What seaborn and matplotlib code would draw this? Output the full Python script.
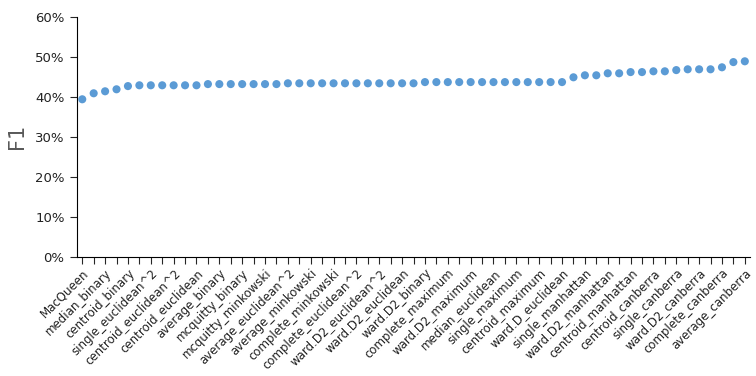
import matplotlib as mpl

mpl.use('Agg')
import matplotlib.pyplot as plt
from matplotlib.ticker import PercentFormatter, MultipleLocator
import pandas as pd
import seaborn as sns

#### Data ####
methods = [
    "MacQueen", "Lloyd", "median_binary", "Hartigan-Wong", "centroid_binary",
    "single_binary", "single_euclidean^2", "median_euclidean^2",
    "centroid_euclidean^2", "single_euclidean", "centroid_euclidean",
    "ward.D_binary", "average_binary", "complete_binary", "mcquitty_binary",
    "mcquitty_euclidean^2", "mcquitty_minkowski", "mcquitty_euclidean",
    "average_euclidean^2", "average_euclidean", "average_minkowski",
    "complete_euclidean", "complete_minkowski", "ward.D_euclidean^2",
    "complete_euclidean^2", "ward.D2_minkowski", "ward.D2_euclidean^2",
    "single_minkowski", "ward.D2_euclidean", "median_minkowski",
    "ward.D2_binary", "average_maximum", "complete_maximum",
    "mcquitty_maximum", "ward.D2_maximum", "median_maximum",
    "median_euclidean", "ward.D_maximum", "single_maximum",
    "centroid_minkowski", "centroid_maximum", "ward.D_minkowski",
    "ward.D_euclidean", "median_manhattan", "single_manhattan",
    "average_manhattan", "ward.D2_manhattan", "complete_manhattan",
    "centroid_manhattan", "mcquitty_manhattan", "centroid_canberra",
    "median_canberra", "single_canberra", "ward.D_manhattan",
    "ward.D2_canberra", "mcquitty_canberra", "complete_canberra",
    "ward.D_canberra", "average_canberra",
]

f1 = [
    0.394, 0.409, 0.414, 0.419, 0.427,
    0.429, 0.429, 0.429, 0.429, 0.429, 0.429,
    0.432, 0.432, 0.432, 0.432, 0.432, 0.432, 0.432,
    0.434, 0.434, 0.434, 0.434, 0.434, 0.434,
    0.434, 0.434, 0.434, 0.434, 0.434, 0.434,
    0.437, 0.437, 0.437, 0.437, 0.437, 0.437, 0.437,
    0.437, 0.437, 0.437, 0.437, 0.437, 0.437,
    0.449, 0.454, 0.454, 0.459, 0.459, 0.462, 0.462,
    0.464, 0.464, 0.467, 0.469, 0.469, 0.469, 0.474,
    0.487, 0.489,
]

y_ticks = [0, 0.1, 0.2, 0.3, 0.4, 0.5, 0.6]
########################

sns.set_style('white')
plt.rcParams['font.family'] = ['DejaVu Sans']

df = pd.DataFrame({'method': methods, 'F1': f1})
df['pos'] = range(len(df))

figure, axis = plt.subplots(figsize=(7.56, 3.76), dpi=100)
figure.subplots_adjust(left=0.102, right=0.992, top=0.955, bottom=0.317)

sns.scatterplot(data=df, x='pos', y='F1', ax=axis, color='#5B9BD5',
                s=34, edgecolor='none', linewidth=0, zorder=3)

# axis range / ticks
axis.set_ylim(0, 0.6)
axis.set_yticks(y_ticks)
axis.yaxis.set_major_formatter(PercentFormatter(1.0, decimals=0))
axis.set_xlim(-0.45, len(df) - 0.55)
axis.set_xticks(df['pos'])
# only every second method gets a label, as in the original
axis.set_xticklabels([m if i % 2 == 0 else '' for i, m in enumerate(methods)],
                     rotation=45, ha='right', rotation_mode='anchor',
                     fontsize=8.5, color='#222222')
axis.tick_params(axis='y', labelsize=9.5, labelcolor='#222222',
                 direction='out', length=5, width=0.8, left=True, pad=4)
axis.tick_params(axis='x', direction='out', length=5, width=0.8,
                 bottom=True, pad=2)

axis.set_xlabel('')
axis.set_ylabel('F1', fontsize=15, color='#595959', labelpad=6)

# 边框设置
axis.spines['right'].set_color("none")
axis.spines['top'].set_color("none")
for side in ('left', 'bottom'):
    axis.spines[side].set_color('black')
    axis.spines[side].set_linewidth(0.8)

plt.savefig('out.png', dpi=100)
